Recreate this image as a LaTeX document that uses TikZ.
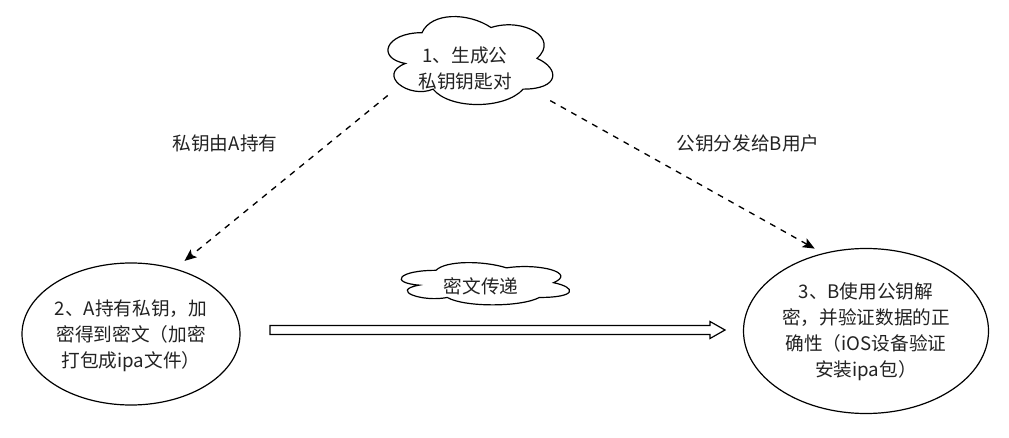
\documentclass[tikz,border=0pt]{standalone}
\usepackage{fontspec}
\newfontfamily\cjk{Noto Sans CJK SC}
\usetikzlibrary{shapes.geometric,arrows.meta,calc}
\definecolor{txt}{HTML}{222222}
\tikzset{
  txtstyle/.style={font=\cjk\fontsize{14}{19.5}\selectfont, text=txt, align=center, inner sep=0pt},
  ellbox/.style={ellipse, draw=black, line width=0.9pt, inner sep=0pt},
  cloudarea/.style={rectangle, inner sep=0pt},
  cloudline/.style={draw=black, line width=0.9pt},
  dasharrow/.style={line width=1pt, dash pattern=on 4.5pt off 4.5pt, -{Stealth[length=9pt,width=7.5pt,inset=2pt]}},
}
% draw.io cloud outline: #1,#2 = top-left corner (px), #3,#4 = width, height in pt
\newcommand{\drawiocloud}[4]{%
  \draw[cloudline, shift={(#1,#2)}, x=#3, y=-#4]
    (0.25,0.25) .. controls (0.05,0.25) and (0,0.5) .. (0.16,0.55)
    .. controls (0,0.66) and (0.18,0.9) .. (0.31,0.8)
    .. controls (0.4,1) and (0.7,1) .. (0.8,0.8)
    .. controls (1,0.8) and (1,0.6) .. (0.875,0.5)
    .. controls (1,0.3) and (0.8,0.1) .. (0.625,0.2)
    .. controls (0.5,0.05) and (0.3,0.05) .. (0.25,0.25) -- cycle;}
\begin{document}
\begin{tikzpicture}[x=0.75pt,y=-0.75pt]
\useasboundingbox[fill=white] (0,0) rectangle (1009,438);
% clouds
\drawiocloud{376}{7}{138pt}{77pt}
\node[cloudarea, minimum width=121.5pt, minimum height=64.5pt] (c1) at (469,61) {};
\node[txtstyle] (c1t) at (465,68.5) {1、生成公\\私钥钥匙对};
\drawiocloud{389}{258}{141pt}{37pt}
\node[cloudarea, minimum width=125pt, minimum height=31.5pt] (c2) at (483,284) {};
\node[txtstyle] (c2t) at (481,286) {密文传递};
% ellipses
\node[ellbox, minimum width=163.5pt, minimum height=106.5pt] (e2) at (131,334) {};
\node[txtstyle] (e2t) at (131,336) {2、A持有私钥，加\\密得到密文（加密\\打包成ipa文件）};
\node[ellbox, minimum width=183.75pt, minimum height=123.75pt] (e3) at (866,331) {};
\node[txtstyle] (e3t) at (866,332) {3、B使用公钥解\\密，并验证数据的正\\确性（iOS设备验证\\安装ipa包）};
% labels
\node[txtstyle] (l1) at (225,143) {私钥由A持有};
\node[txtstyle] (l2) at (748,143) {公钥分发给B用户};
% dashed arrows
\draw[dasharrow, shorten >=9pt] (c1.203) -- (e2.56);
\draw[dasharrow, shorten >=7pt] (c1.334) -- (e3.119);
% hollow arrow
\coordinate (ha) at (270,330);
\coordinate (hb) at (725,330);
\draw[line width=0.9pt, line join=miter]
  ($(ha)+(0,-4.5)$) -- ($(hb)+(-15,-4.5)$) -- ($(hb)+(-15,-8.5)$) -- (hb)
  -- ($(hb)+(-15,8.5)$) -- ($(hb)+(-15,4.5)$) -- ($(ha)+(0,4.5)$) -- cycle;
\end{tikzpicture}
\end{document}
